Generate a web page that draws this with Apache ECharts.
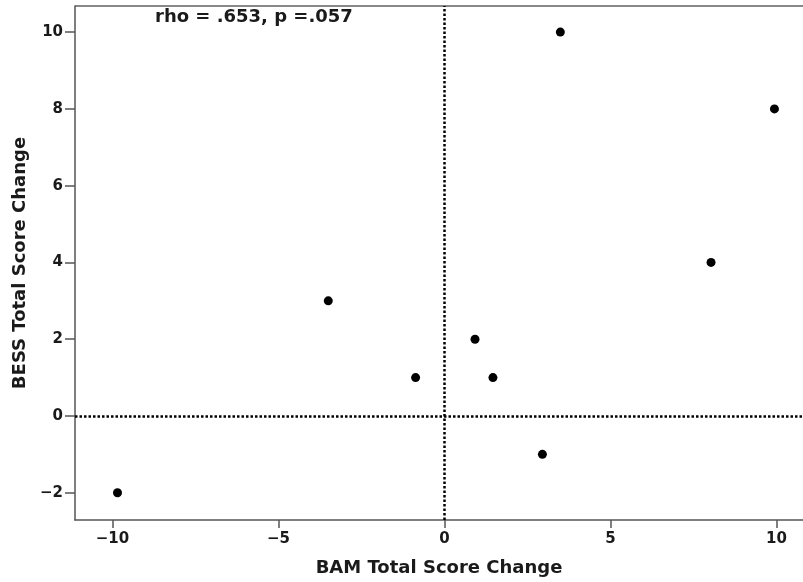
<!DOCTYPE html>
<html>
<head>
<meta charset="utf-8">
<script src="https://cdn.jsdelivr.net/npm/echarts@6/dist/echarts.min.js"></script>
<style>html,body{margin:0;padding:0;background:#fff}#c{width:803px;height:582px}</style>
</head>
<body>
<div id="c"></div>
<script>
var bamChange = [-9.85, -3.5, -0.87, 0.92, 1.46, 2.95, 3.49, 8.03, 9.94];
var bessChange = [-2, 3, 1, 2, 1, -1, 10, 4, 8];
var xTicks = [-10, -5, 0, 5, 10];
var yTicks = [-2, 0, 2, 4, 6, 8, 10];
var statText = 'rho = .653, p =.057';
var xName = 'BAM Total Score Change';
var yName = 'BESS Total Score Change';

var points = bamChange.map(function (v, i) { return [v, bessChange[i]]; });
var fmt = function (v) { return v < 0 ? '\u2212' + Math.abs(v) : String(v); };
var font = 'DejaVu Sans';
var chart = echarts.init(document.getElementById('c'));
chart.setOption({
  animation: false,
  grid: { left: 75, right: 0, top: 6, bottom: 62 },
  xAxis: {
    type: 'value', min: -11.13, max: 10.8,
    splitLine: { show: false },
    axisLine: { show: true, onZero: false, lineStyle: { color: '#555', width: 1.5 } },
    axisTick: { show: true, length: 8, customValues: xTicks, lineStyle: { color: '#555', width: 1.5 } },
    axisLabel: { customValues: xTicks, formatter: fmt, margin: 12, color: '#1a1a1a', fontFamily: font, fontWeight: 'bold', fontSize: 15 },
    name: xName, nameLocation: 'middle', nameGap: 39,
    nameTextStyle: { color: '#1a1a1a', fontFamily: font, fontWeight: 'bold', fontSize: 18 }
  },
  yAxis: {
    type: 'value', min: -2.71, max: 10.68,
    splitLine: { show: false },
    axisLine: { show: true, onZero: false, lineStyle: { color: '#555', width: 1.5 } },
    axisTick: { show: true, length: 10, customValues: yTicks, lineStyle: { color: '#555', width: 1.5 } },
    axisLabel: { customValues: yTicks, formatter: fmt, margin: 12, color: '#1a1a1a', fontFamily: font, fontWeight: 'bold', fontSize: 15 },
    name: yName, nameLocation: 'middle', nameGap: 42,
    nameTextStyle: { color: '#1a1a1a', fontFamily: font, fontWeight: 'bold', fontSize: 18 }
  },
  graphic: [
    { type: 'line', shape: { x1: 75, y1: 6, x2: 803, y2: 6 }, style: { stroke: '#888', lineWidth: 2 } },
    { type: 'text', left: 155, top: 8, style: { text: statText, fill: '#1a1a1a', font: 'bold 18px "DejaVu Sans"' } }
  ],
  series: [{
    type: 'scatter', data: points, symbolSize: 9,
    itemStyle: { color: '#000', opacity: 1 },
    markLine: {
      silent: true, symbol: 'none', label: { show: false },
      lineStyle: { color: '#000', type: [2.5, 2], width: 2.5, opacity: 1 },
      data: [{ xAxis: 0 }, { yAxis: 0 }]
    }
  }]
});
</script>
</body>
</html>
